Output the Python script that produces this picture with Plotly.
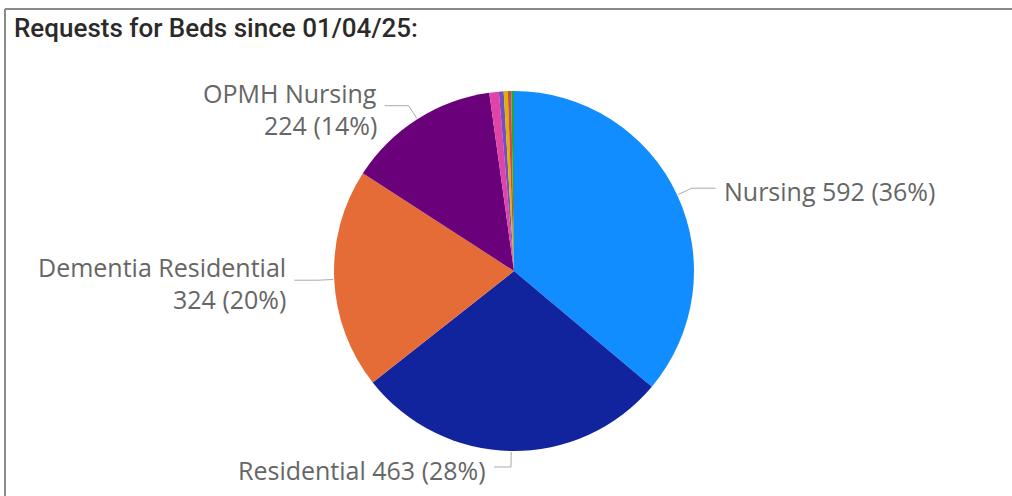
import math
import plotly.graph_objects as go

# ---- data ----
categories = ["Nursing", "Residential", "Dementia Residential", "OPMH Nursing",
              "Dementia Nursing", "OPMH Residential", "Respite Nursing",
              "Respite Residential", "Other"]
values = [592, 463, 324, 224, 14, 7, 6, 5, 4]
colors = ["#118DFF", "#12239E", "#E66C37", "#6B007B", "#E044A7",
          "#744EC2", "#D9B300", "#D64550", "#1AAB40"]
labelled = ["Nursing", "Residential", "Dementia Residential", "OPMH Nursing"]
title_text = "Requests for Beds since 01/04/25:"

W, H = 1012, 496
CX, CY, R = 514, 271, 180  # pie centre / radius in pixels


def px(x):
    return x / W


def py(y):
    return 1 - y / H


fig = go.Figure()
fig.add_trace(go.Pie(
    labels=categories, values=values, sort=False, direction="clockwise",
    rotation=0, marker=dict(colors=colors, line=dict(width=0)),
    textinfo="none", hoverinfo="label+value+percent", showlegend=False,
    domain=dict(x=[px(CX - R), px(CX + R)], y=[py(CY + R), py(CY - R)]),
))

total = sum(values)
cum = 0
shapes = []
annotations = []
label_font = dict(family="Open Sans, Noto Sans, sans-serif", size=25, color="#666666")
for cat, v in zip(categories, values):
    mid = (cum + v / 2) / total * 2 * math.pi
    cum += v
    if cat not in labelled:
        continue
    sx, sy = math.sin(mid), -math.cos(mid)
    x0, y0 = CX + (R + 1) * sx, CY + (R + 1) * sy
    x1, y1 = CX + (R + 16) * sx, CY + (R + 16) * sy
    side = 1 if sx > 0.05 else -1
    seg = 24 if abs(sx) > 0.3 else 17
    x2 = x1 + side * seg
    shapes.append(dict(type="path", xref="paper", yref="paper",
                       path=f"M {px(x0)},{py(y0)} L {px(x1)},{py(y1)} L {px(x2)},{py(y1)}",
                       line=dict(color="#AAAAAA", width=1)))
    pct = round(v / total * 100)
    anchor = "left" if side > 0 else "right"
    tx = x2 + side * 6
    if cat in ("Nursing", "Residential"):
        lines = [f"{cat} {v} ({pct}%)"]
    else:
        lines = [cat, f"{v} ({pct}%)"]
    n = len(lines)
    for i, t in enumerate(lines):
        ly = y1 + (i - (n - 1) / 2) * 32 + 3
        annotations.append(dict(x=px(tx), y=py(ly), xref="paper", yref="paper",
                                text=t, showarrow=False, xanchor=anchor, yanchor="middle",
                                font=label_font))

# title
annotations.append(dict(x=px(12), y=py(28), xref="paper", yref="paper", text=title_text,
                        showarrow=False, xanchor="left", yanchor="middle",
                        font=dict(family="Roboto, sans-serif", size=26, color="#2b2a29", weight=500)))

# visual frame (top and left edges)
shapes.append(dict(type="line", xref="paper", yref="paper", x0=px(5), x1=1, y0=py(9), y1=py(9),
                   line=dict(color="#8A8A8A", width=2)))
shapes.append(dict(type="line", xref="paper", yref="paper", x0=px(5), x1=px(5), y0=py(9), y1=0,
                   line=dict(color="#8A8A8A", width=2)))

fig.update_layout(width=W, height=H, margin=dict(l=0, r=0, t=0, b=0),
                  paper_bgcolor="white", plot_bgcolor="white",
                  shapes=shapes, annotations=annotations)
fig.write_html("out.html", config={"displayModeBar": False},
               post_script="document.body.style.margin='0';")
